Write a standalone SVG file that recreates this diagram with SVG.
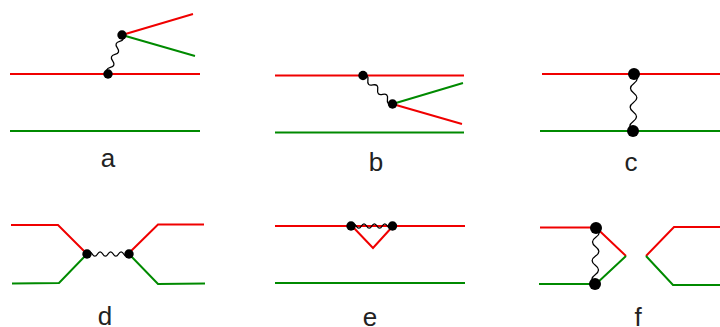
<svg xmlns="http://www.w3.org/2000/svg" xmlns:xlink="http://www.w3.org/1999/xlink" width="720" height="327" viewBox="0 0 720 327">
<style>
.r{fill:none;stroke:#f00000;stroke-width:2}
.g{fill:none;stroke:#008a00;stroke-width:2}
.w{fill:none;stroke:#000;stroke-width:1.3;vector-effect:non-scaling-stroke}
.d{fill:#000}
.t{font-family:"Liberation Sans",Arial,sans-serif;font-size:26px;fill:#222;text-anchor:middle}
</style>
<defs>
<path id="wave3" class="w" d="M0 0q3.330 -5 6.670 0t6.670 0t6.670 0t6.670 0t6.670 0t6.650 0"/>
<path id="wave4" class="w" d="M0 0q2.500 -4.400 5 0t5 0t5 0t5 0t5 0t5 0t5 0t5 0"/>
</defs>
<rect width="720" height="327" fill="#fff"/>
<g id="connectors">
<path class="r" d="M10 74H200M122 35L193 14"/>
<path class="g" d="M10 131H200M122 35L195 56"/>
<use xlink:href="#wave3" href="#wave3" transform="translate(108 74) rotate(-70.3) scale(1.036 1)"/>
<path class="r" d="M275 75.500H464M392.500 104L462 124"/>
<path class="g" d="M275 132.500H464M392.500 104L463 83"/>
<use xlink:href="#wave3" href="#wave3" transform="translate(363 75.500) rotate(44) scale(1.02 1)"/>
<path class="r" d="M542 74H720"/>
<path class="g" d="M540 131H720"/>
<use xlink:href="#wave3" href="#wave3" transform="translate(634 74) rotate(91) scale(1.425 1.300)"/>
<path class="r" d="M11 225H58L87 254M128 254L158 224.500H204"/>
<path class="g" d="M12 283.500L59 283L87 254M129 254L158 284L205 283.500"/>
<use xlink:href="#wave4" href="#wave4" transform="translate(87 254) scale(1.05 1)"/>
<path class="r" d="M275 226H465M352 226L373 248L393 226"/>
<path class="g" d="M275 283H465"/>
<use xlink:href="#wave4" href="#wave4" transform="translate(351 226) scale(1.04 1)"/>
<path class="r" d="M540 227.500H596L626 256M646 256L674 227H720"/>
<path class="g" d="M539 284H596L626 256M646 256L673 285H720"/>
<use xlink:href="#wave3" href="#wave3" transform="translate(596 228) rotate(91) scale(1.4 1.300)"/>
</g>
<g id="a"><circle class="d" cx="108" cy="74" r="4.700"/><circle class="d" cx="122" cy="35" r="4.700"/><text class="t" x="108" y="167">a</text></g>
<g id="b"><circle class="d" cx="363" cy="75.500" r="4.700"/><circle class="d" cx="392.500" cy="104" r="4.700"/><text class="t" x="376" y="171">b</text></g>
<g id="c"><circle class="d" cx="634" cy="74" r="6"/><circle class="d" cx="633" cy="131" r="6"/><text class="t" x="631" y="171">c</text></g>
<g id="d"><circle class="d" cx="87" cy="254" r="4.700"/><circle class="d" cx="129" cy="254" r="4.700"/><text class="t" x="105" y="325">d</text></g>
<g id="e"><circle class="d" cx="351" cy="226" r="4.700"/><circle class="d" cx="392.500" cy="226" r="4.700"/><text class="t" x="370" y="326">e</text></g>
<g id="f"><circle class="d" cx="596" cy="228" r="6"/><circle class="d" cx="595" cy="284" r="6"/><text class="t" x="638" y="326">f</text></g>
</svg>
